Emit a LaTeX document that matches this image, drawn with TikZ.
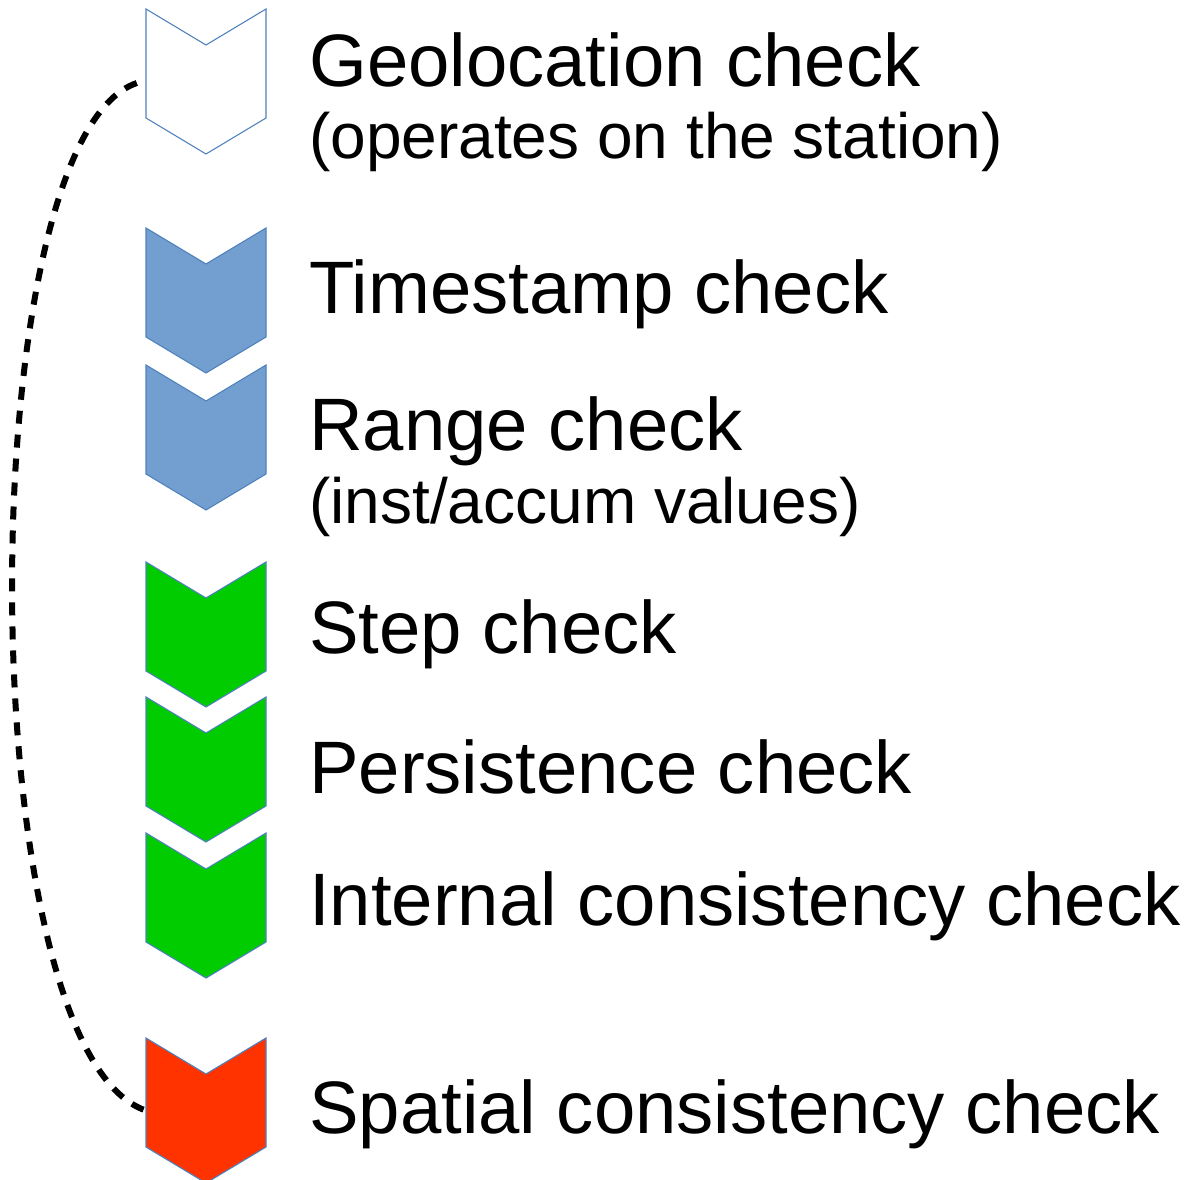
\documentclass[tikz,border=0pt]{standalone}
\usepackage{fontspec}
\setmainfont{Liberation Sans}
\definecolor{chevline}{RGB}{79,129,189}
\definecolor{chevblue}{RGB}{114,159,207}
\definecolor{chevgreen}{RGB}{0,204,0}
\definecolor{chevred}{RGB}{255,51,0}
\tikzset{
  chevshape/.style={draw=chevline, line width=1.1pt, line join=miter},
  chevbox/.style={draw=none, fill=none, inner sep=0pt, minimum width=120pt, minimum height=145pt},
  lbl/.style={anchor=base west, inner sep=0pt, font=\fontsize{74.3}{71}\selectfont},
  sublbl/.style={anchor=base west, inner sep=0pt, font=\fontsize{64}{64}\selectfont},
  dotlink/.style={draw=black, line width=6pt, dash pattern=on 13pt off 11pt}
}
\newcommand\chevron[3]{% name, top y, fill
  \draw[chevshape, fill=#3] (146,#2) -- (206,#2+36) -- (266,#2) -- (266,#2+109)
    -- (206,#2+145) -- (146,#2+109) -- cycle;
  \node[chevbox] (#1) at (206,#2+72.5) {};
}
\begin{document}
\begin{tikzpicture}[x=1pt,y=-1pt]
\useasboundingbox (0,0) rectangle (1192,1180);
\chevron{geo}{9}{white}
\chevron{time}{228}{chevblue}
\chevron{range}{365}{chevblue}
\chevron{stepc}{562}{chevgreen}
\chevron{pers}{697}{chevgreen}
\chevron{intc}{833}{chevgreen}
\chevron{spat}{1038}{chevred}

\node[lbl] (geoT) at (309,87) {Geolocation check};
\node[sublbl] (geoS) at (309,159) {(operates on the station)};
\node[lbl] (timeT) at (309,313) {Timestamp check};
\node[lbl] (rangeT) at (309,450) {Range check};
\node[sublbl] (rangeS) at (309,523) {(inst/accum values)};
\node[lbl] (stepT) at (309,653) {Step check};
\node[lbl] (persT) at (309,793) {Persistence check};
\node[lbl] (intT) at (309,925) {Internal consistency check};
\node[lbl] (spatT) at (309,1133) {Spatial consistency check};

\path[dotlink] ([xshift=-9pt,yshift=-1.5pt]geo.west) .. controls (-31,140) and (-31,1050) .. (spat.west);
\end{tikzpicture}
\end{document}
